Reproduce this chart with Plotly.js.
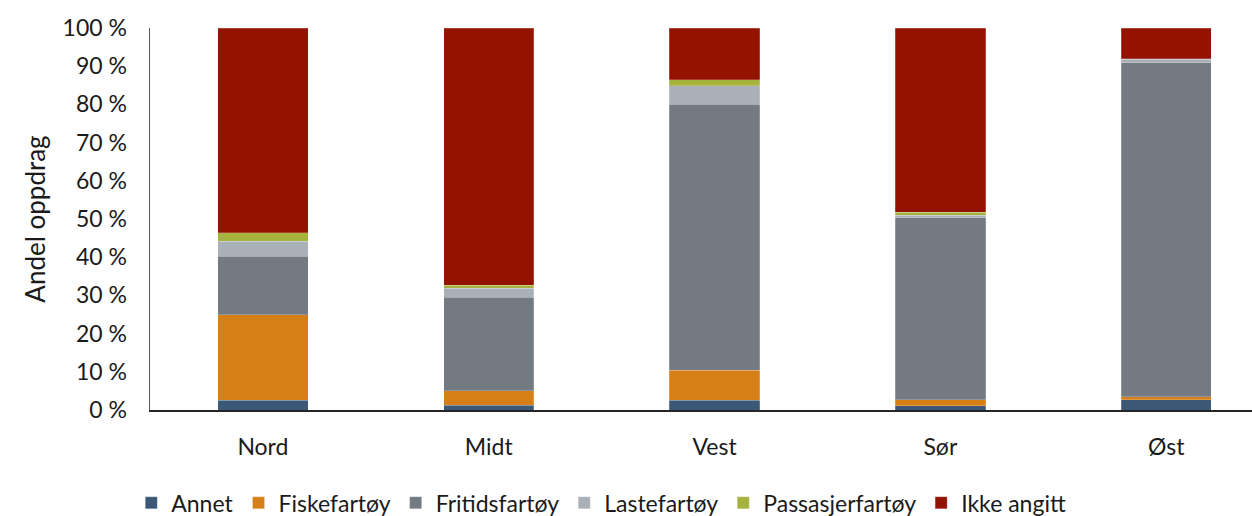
<!DOCTYPE html>
<html>
<head>
<meta charset="utf-8">
<script src="https://cdn.plot.ly/plotly-3.0.1.min.js"></script>
<style>html,body{margin:0;padding:0;background:#fff;overflow:hidden}#chart{width:1252px;height:516px}</style>
</head>
<body>
<div id="chart"></div>
<script>
const categories = ["Nord", "Midt", "Vest", "Sør", "Øst"];
const seriesNames = ["Annet", "Fiskefartøy", "Fritidsfartøy", "Lastefartøy", "Passasjerfartøy", "Ikke angitt"];
const annet = [2.6, 1.2, 2.6, 1.1, 2.7];
const fiskefartoy = [22.3, 3.8, 7.8, 1.6, 0.8];
const fritidsfartoy = [15.4, 24.5, 69.7, 47.6, 87.4];
const lastefartoy = [3.9, 2.4, 4.8, 0.7, 0.9];
const passasjerfartoy = [2.2, 0.7, 1.5, 0.8, 0.1];
const ikkeAngitt = [53.6, 67.4, 13.6, 48.2, 8.1];
const yTicks = [0, 10, 20, 30, 40, 50, 60, 70, 80, 90, 100];
const colors = ["#3b5876", "#d67f17", "#737a81", "#aab0b7", "#a5b33d", "#941200"];

const allSeries = [annet, fiskefartoy, fritidsfartoy, lastefartoy, passasjerfartoy, ikkeAngitt];
const font = "Lato, 'Open Sans', sans-serif";
const traces = allSeries.map((vals, i) => ({
  type: "bar",
  name: seriesNames[i],
  x: categories,
  y: vals,
  width: 0.4,
  marker: {color: colors[i], line: {color: "rgba(255,255,255,0.35)", width: 0.6}},
  hoverinfo: "name+y"
}));

const layout = {
  width: 1252, height: 516,
  margin: {l: 150, r: 0, t: 28, b: 106, autoexpand: false},
  barmode: "stack",
  paper_bgcolor: "#fff", plot_bgcolor: "#fff",
  font: {family: font, size: 23, color: "#1a1a1a"},
  showlegend: true,
  legend: {orientation: "h", x: -0.017, xanchor: "left", y: -0.243, yanchor: "middle",
           traceorder: "normal", font: {family: font, size: 23, color: "#1a1a1a"},
           itemwidth: 30, tracegroupgap: 0},
  xaxis: {
    type: "category", range: [-0.5, 4.38], showgrid: false, zeroline: false,
    showline: true, linecolor: "#262626", linewidth: 2, ticks: "", ticklen: 0,
    ticklabelstandoff: 15,
    tickfont: {family: font, size: 23, color: "#1a1a1a"}, fixedrange: true
  },
  yaxis: {
    range: [0, 100], tickvals: yTicks, ticktext: yTicks.map(v => v + " %"),
    showgrid: false, zeroline: false, showline: true, linecolor: "#595959", linewidth: 1.5,
    ticks: "", ticklen: 0, ticklabelstandoff: 17,
    tickfont: {family: font, size: 23, color: "#1a1a1a"},
    title: {text: "Andel oppdrag", font: {family: font, size: 26, color: "#1a1a1a"}, standoff: 9},
    fixedrange: true
  }
};

Plotly.newPlot("chart", traces, layout, {displayModeBar: false, staticPlot: true});
</script>
</body>
</html>
